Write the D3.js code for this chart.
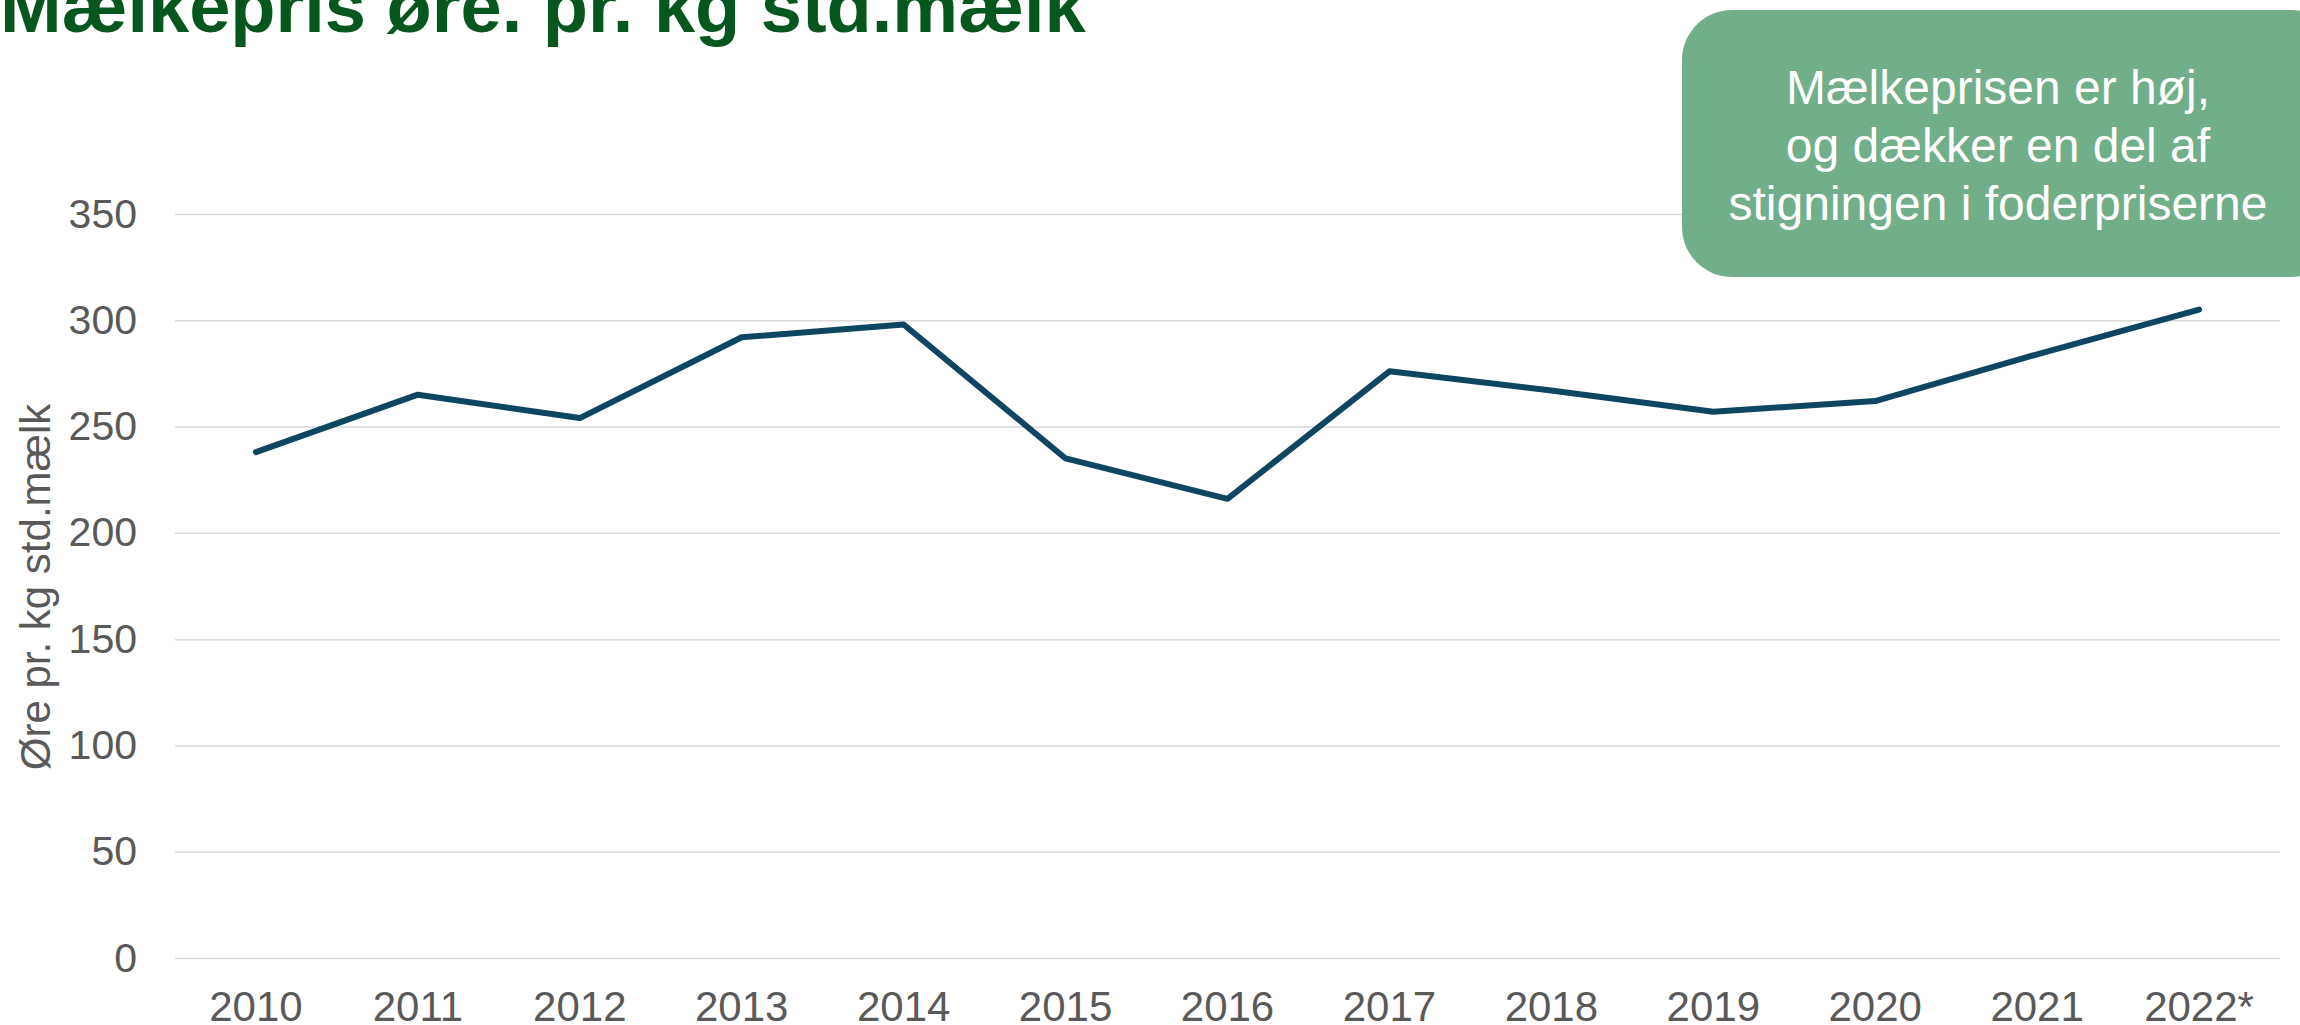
<!DOCTYPE html>
<html>
<head>
<meta charset="utf-8">
<script src="https://cdn.jsdelivr.net/npm/d3@7"></script>
<style>
  body { margin: 0; background: #fff; overflow: hidden; }
  text { font-family: "Liberation Sans", Arial, sans-serif; }
</style>
</head>
<body>
<div id="container"></div>
<script>
/* CONSTANTS AND GLOBALS */
const width = 2300,
  height = 1025,
  margin = {top: 214, bottom: 67, left: 175, right: 20};

/* DATA */
const years = ["2010","2011","2012","2013","2014","2015","2016","2017","2018","2019","2020","2021","2022*"];
const prices = [238, 265, 254, 292, 298, 235, 216, 276, 267, 257, 262, 284, 305];
const yTicks = [0, 50, 100, 150, 200, 250, 300, 350];
const titleText = "Mælkepris øre. pr. kg std.mælk";
const yTitle = "Øre pr. kg std.mælk";
const noteLines = ["Mælkeprisen er høj,", "og dækker en del af", "stigningen i foderpriserne"];

const data = years.map((y, i) => ({year: y, price: prices[i]}));

// SVG
const svg = d3.select("#container").append("svg")
  .attr("width", width)
  .attr("height", height)

// SCALES
const xScale = d3.scaleBand()
  .domain(years)
  .range([margin.left, width - margin.right])

const yScale = d3.scaleLinear()
  .domain([0, 350])
  .range([height - margin.bottom, margin.top])

// AXES (gridlines come from the y axis ticks)
const yAxis = d3.axisLeft(yScale)
  .tickValues(yTicks)
  .tickSize(-(width - margin.right - margin.left))
  .tickPadding(38)

const yG = svg.append("g")
  .attr("transform", `translate(${margin.left},0)`)
  .call(yAxis)
yG.select(".domain").remove()
yG.selectAll("line").attr("stroke", "#d9d9d9").attr("stroke-width", 1.5)
yG.selectAll("text").attr("fill", "#595959").style("font-size", "41px")

const xAxis = d3.axisBottom(xScale).tickSize(0).tickPadding(33)
const xG = svg.append("g")
  .attr("transform", `translate(0,${height - margin.bottom})`)
  .call(xAxis)
xG.select(".domain").remove()
xG.selectAll("text").attr("fill", "#595959").style("font-size", "42px")

// LINE
const line = d3.line()
  .x(d => xScale(d.year) + xScale.bandwidth() / 2)
  .y(d => yScale(d.price))

svg.append("path")
  .datum(data)
  .attr("d", line)
  .attr("fill", "none")
  .attr("stroke", "#0e4661")
  .attr("stroke-width", 6)
  .attr("stroke-linejoin", "round")
  .attr("stroke-linecap", "round")

// Y TITLE
svg.append("text")
  .attr("transform", "translate(50,587) rotate(-90)")
  .attr("text-anchor", "middle")
  .attr("fill", "#595959")
  .style("font-size", "42px")
  .text(yTitle)

// TITLE (cut off at the top like the original)
svg.append("text")
  .attr("x", 0)
  .attr("y", 32)
  .attr("fill", "#05561f")
  .style("font-size", "74px")
  .style("font-weight", "bold")
  .text(titleText)

// CALLOUT BOX
const note = svg.append("g")
note.append("rect")
  .attr("x", 1682).attr("y", 10)
  .attr("width", 660).attr("height", 267)
  .attr("rx", 50)
  .attr("fill", "#71ae8a")

note.selectAll("text")
  .data(noteLines)
  .join("text")
  .attr("x", 1998)
  .attr("y", (d, i) => 104 + i * 58)
  .attr("text-anchor", "middle")
  .attr("fill", "#fff")
  .style("font-size", "48px")
  .text(d => d)
</script>
</body>
</html>
